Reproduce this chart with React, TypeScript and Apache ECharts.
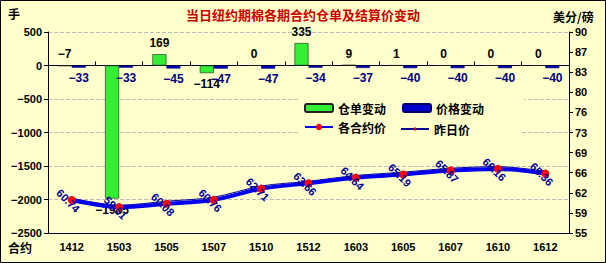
import React, { useEffect, useRef } from "react";
import * as echarts from "echarts";

const categories = ["1412", "1503", "1505", "1507", "1510", "1512", "1603", "1605", "1607", "1610", "1612"];
const stockChange = [-7, -1985, 169, -114, 0, 335, 9, 1, 0, 0, 0];
const priceChange = [-33, -33, -45, -47, -47, -34, -37, -40, -40, -40, -40];
const todayPrice = [60.74, 59.51, 60.08, 60.76, 62.71, 63.66, 64.64, 65.19, 65.87, 66.16, 65.36];
const yesterdayPrice = [61.07, 59.84, 60.53, 61.23, 63.18, 64.0, 65.01, 65.59, 66.27, 66.56, 65.76];
const leftTicks = { min: -2500, max: 500, interval: 500 };
const rightTicks = { min: 55, max: 90, interval: 3.5 };

const FONT = '"Liberation Sans", Arial, "Noto Sans CJK SC", sans-serif';
const BG = "#FFFFCC";
const minus = (v: number) => String(v).replace("-", "−");

export default function App() {
  const ref = useRef<HTMLDivElement>(null);
  useEffect(() => {
    document.body.style.margin = "0";
    const chart = echarts.init(ref.current!, undefined, { renderer: "svg" });
    const baseText = { fontFamily: FONT, fontWeight: "bold" as const, fontSize: 11, color: "#000" };
    const legendText = { fontFamily: '"Noto Sans CJK SC"', fontWeight: "bold" as const, fontSize: 12, color: "#000" };
    chart.setOption({
      animation: false,
      backgroundColor: BG,
      textStyle: { fontFamily: FONT },
      title: {
        text: "当日纽约期棉各期合约仓单及结算价变动",
        left: "center",
        top: 3,
        textStyle: { fontFamily: '"Noto Sans CJK SC", sans-serif', fontWeight: "bold", fontSize: 13, color: "#CC0000" },
      },
      graphic: [
        { type: "rect", shape: { x: 0.5, y: 0.5, width: 605, height: 262 }, style: { fill: "none", stroke: "#000", lineWidth: 1 }, silent: true, z: 100 },
        { type: "text", left: 8, top: 7, style: { text: "手", font: 'bold 12px "Noto Sans CJK SC"', fill: "#000" } },
        { type: "text", left: 8, top: 241, style: { text: "合约", font: 'bold 12px "Noto Sans CJK SC"', fill: "#000" } },
        { type: "text", left: 553, top: 10, style: { text: "美分/磅", font: 'bold 12px "Noto Sans CJK SC"', fill: "#000" } },
      ],
      legend: [
        {
          data: ["仓单变动", "价格变动"],
          left: 300,
          top: 99,
          itemWidth: 28,
          itemHeight: 8,
          itemGap: 16,
          backgroundColor: BG,
          padding: [3, 40, 3, 4],
          textStyle: legendText,
        },
        {
          data: ["各合约价"],
          left: 300,
          top: 118,
          itemWidth: 28,
          itemHeight: 8,
          backgroundColor: BG,
          padding: [3, 16, 3, 4],
          textStyle: legendText,
        },
        {
          data: ["昨日价"],
          left: 396,
          top: 118,
          itemWidth: 28,
          itemHeight: 4,
          backgroundColor: BG,
          padding: [5, 50, 5, 4],
          textStyle: legendText,
        },
      ],
      grid: { left: 48, right: 37, top: 32, bottom: 30 },
      xAxis: [
        {
          type: "category",
          data: categories,
          position: "bottom",
          axisLine: { onZero: false, lineStyle: { color: "#000", width: 1 } },
          axisTick: { show: false },
          axisLabel: { ...baseText, margin: 8 },
        },
        {
          type: "category",
          data: categories,
          position: "top",
          axisLine: { onZero: true, lineStyle: { color: "#000", width: 1 } },
          axisTick: { show: true, inside: false, length: 4, lineStyle: { color: "#000" } },
          axisLabel: { show: false },
        },
      ],
      yAxis: [
        {
          type: "value",
          ...leftTicks,
          position: "left",
          axisLine: { show: true, lineStyle: { color: "#000" } },
          axisTick: { show: true, length: 4, lineStyle: { color: "#000" } },
          axisLabel: { ...baseText, margin: 6, formatter: (v: number) => minus(v) },
          splitLine: { show: true, lineStyle: { color: "#BBB", type: "dashed" } },
        },
        {
          type: "value",
          ...rightTicks,
          position: "right",
          axisLine: { show: true, lineStyle: { color: "#000" } },
          axisTick: { show: true, length: 4, lineStyle: { color: "#000" } },
          axisLabel: { ...baseText, margin: 6, formatter: (v: number) => String(Math.round(v)) },
          splitLine: { show: false },
        },
      ],
      series: [
        {
          name: "仓单变动",
          type: "bar",
          xAxisIndex: 0,
          yAxisIndex: 0,
          barWidth: 14,
          barGap: "0%",
          itemStyle: { color: "#33EE33", borderColor: "#222", borderWidth: 0.6 },
          data: stockChange.map((v) => ({
            value: v,
            label: { position: v >= -10 ? "top" : "bottom" },
          })),
          label: { show: true, ...baseText, fontSize: 12, distance: 5, formatter: (p: any) => minus(p.value) },
        },
        {
          name: "价格变动",
          type: "bar",
          xAxisIndex: 0,
          yAxisIndex: 0,
          barWidth: 14,
          barGap: "0%",
          itemStyle: { color: "#0000CC", borderColor: "#000066", borderWidth: 0.6 },
          data: priceChange,
          label: { show: true, position: "bottom", ...baseText, fontSize: 12, color: "#000080", distance: 4, formatter: (p: any) => minus(p.value) },
        },
        {
          name: "昨日价",
          type: "line",
          xAxisIndex: 0,
          yAxisIndex: 1,
          data: yesterdayPrice,
          smooth: 0.3,
          lineStyle: { color: "#000099", width: 1 },
          itemStyle: { color: "#CC0000" },
          symbol: "circle",
          symbolSize: 3,
          z: 3,
        },
        {
          name: "各合约价",
          type: "line",
          xAxisIndex: 0,
          yAxisIndex: 1,
          data: todayPrice,
          smooth: 0.3,
          lineStyle: { color: "#0000EE", width: 4 },
          itemStyle: { color: "#FF0000" },
          symbol: "circle",
          symbolSize: 8,
          z: 4,
          label: {
            show: true,
            position: "inside",
            offset: [-2, 3],
            rotate: -45,
            ...baseText,
            fontSize: 11,
            color: "#000099",
            formatter: (p: any) => p.value.toFixed(2),
          },
        },
      ],
    });
    return () => chart.dispose();
  }, []);
  return <div ref={ref} style={{ width: 606, height: 263 }} />;
}
